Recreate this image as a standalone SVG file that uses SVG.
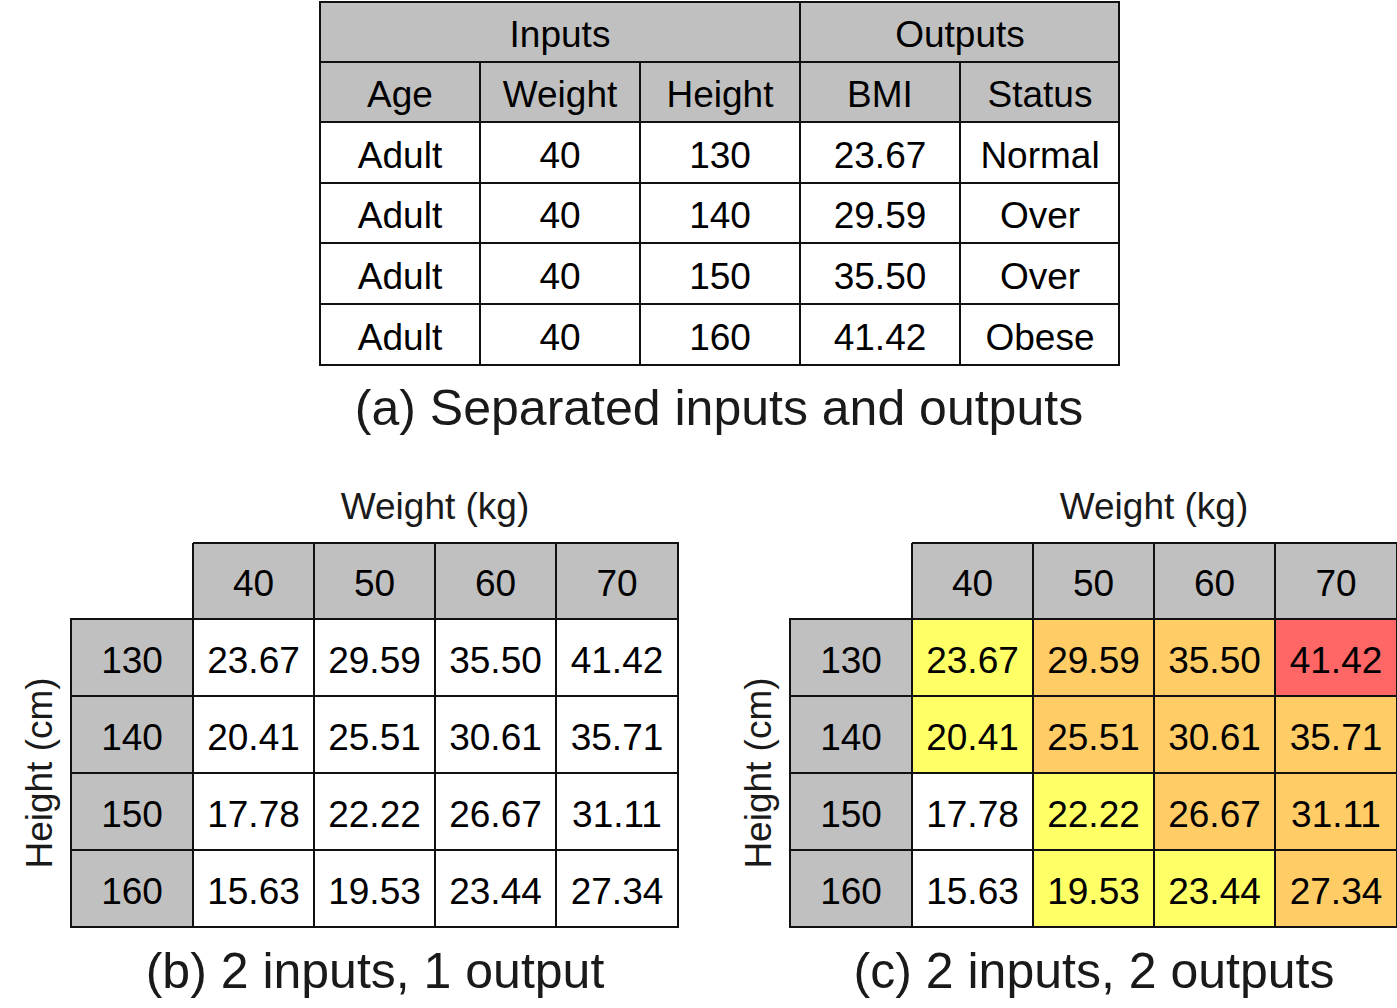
<svg xmlns="http://www.w3.org/2000/svg" width="1397" height="1008" viewBox="0 0 1397 1008">
<style>
text{font-family:"Liberation Sans",Arial,sans-serif;fill:#000;text-anchor:middle}
.t{font-size:37px}
.l{font-size:37px;fill:#1a1a1a}
.cap{font-size:50px;fill:#1a1a1a}
.g{fill:#c0c0c0}
.w{fill:#fff}
.y{fill:#ffff66}
.o{fill:#ffcc66}
.r{fill:#ff6666}
.ln{stroke:#111;stroke-width:2;fill:none}
</style>
<rect width="1397" height="1008" fill="#fff"/>

<g id="tableA">
  <rect class="g" x="320" y="2" width="799" height="120"/>
  <rect class="w" x="320" y="122" width="799" height="243"/>
  <g class="ln">
    <rect x="320" y="2" width="799" height="363"/>
    <path d="M320 62H1119M320 122H1119M320 183H1119M320 243H1119M320 304H1119M800 2V365M480 62V365M640 62V365M960 62V365"/>
  </g>
  <g class="l">
    <text x="560" y="47">Inputs</text>
    <text x="960" y="47">Outputs</text>
    <text x="400" y="107">Age</text>
    <text x="560" y="107">Weight</text>
    <text x="720" y="107">Height</text>
    <text x="880" y="107">BMI</text>
    <text x="1040" y="107">Status</text>
    <text x="400" y="168">Adult</text><text x="560" y="168">40</text><text x="720" y="168">130</text><text x="880" y="168">23.67</text><text x="1040" y="168">Normal</text>
    <text x="400" y="228">Adult</text><text x="560" y="228">40</text><text x="720" y="228">140</text><text x="880" y="228">29.59</text><text x="1040" y="228">Over</text>
    <text x="400" y="289">Adult</text><text x="560" y="289">40</text><text x="720" y="289">150</text><text x="880" y="289">35.50</text><text x="1040" y="289">Over</text>
    <text x="400" y="350">Adult</text><text x="560" y="350">40</text><text x="720" y="350">160</text><text x="880" y="350">41.42</text><text x="1040" y="350">Obese</text>
  </g>
  <text class="cap" x="719" y="425">(a) Separated inputs and outputs</text>
</g>

<g id="tableB">
  <rect class="g" x="193" y="543" width="485" height="76"/>
  <rect class="g" x="71" y="619" width="122" height="308"/>
  <rect class="w" x="193" y="619" width="485" height="308"/>
  <g class="ln">
    <path d="M193 543H678V927H71V619H193V543M193 619V927M314 543V927M435 543V927M556 543V927M71 619H678M71 696H678M71 773H678M71 850H678"/>
  </g>
  <text class="l" x="435" y="519">Weight (kg)</text>
  <text class="l" x="52" y="773" transform="rotate(-90 52 773)">Height (cm)</text>
  <g class="l">
    <text x="253.5" y="596">40</text><text x="374.5" y="596">50</text><text x="495.5" y="596">60</text><text x="617" y="596">70</text>
    <text x="132" y="673">130</text><text x="132" y="750">140</text><text x="132" y="827">150</text><text x="132" y="904">160</text>
  </g>
  <g class="t">
    <text x="253.5" y="673">23.67</text><text x="374.5" y="673">29.59</text><text x="495.5" y="673">35.50</text><text x="617" y="673">41.42</text>
    <text x="253.5" y="750">20.41</text><text x="374.5" y="750">25.51</text><text x="495.5" y="750">30.61</text><text x="617" y="750">35.71</text>
    <text x="253.5" y="827">17.78</text><text x="374.5" y="827">22.22</text><text x="495.5" y="827">26.67</text><text x="617" y="827">31.11</text>
    <text x="253.5" y="904">15.63</text><text x="374.5" y="904">19.53</text><text x="495.5" y="904">23.44</text><text x="617" y="904">27.34</text>
  </g>
  <text class="cap" x="375" y="988">(b) 2 inputs, 1 output</text>
</g>

<g id="tableC">
  <rect class="g" x="912" y="543" width="485" height="76"/>
  <rect class="g" x="790" y="619" width="122" height="308"/>
  <rect class="y" x="912" y="619" width="121" height="154"/>
  <rect class="o" x="1033" y="619" width="242" height="154"/>
  <rect class="r" x="1275" y="619" width="122" height="77"/>
  <rect class="o" x="1275" y="696" width="122" height="231"/>
  <rect class="w" x="912" y="773" width="121" height="154"/>
  <rect class="y" x="1033" y="773" width="121" height="154"/>
  <rect class="o" x="1154" y="773" width="121" height="77"/>
  <rect class="y" x="1154" y="850" width="121" height="77"/>
  <g class="ln">
    <path d="M912 543H1397V927H790V619H912V543M912 619V927M1033 543V927M1154 543V927M1275 543V927M790 619H1397M790 696H1397M790 773H1397M790 850H1397"/>
  </g>
  <text class="l" x="1154" y="519">Weight (kg)</text>
  <text class="l" x="771" y="773" transform="rotate(-90 771 773)">Height (cm)</text>
  <g class="l">
    <text x="972.5" y="596">40</text><text x="1093.5" y="596">50</text><text x="1214.5" y="596">60</text><text x="1336" y="596">70</text>
    <text x="851" y="673">130</text><text x="851" y="750">140</text><text x="851" y="827">150</text><text x="851" y="904">160</text>
  </g>
  <g class="t">
    <text x="972.5" y="673">23.67</text><text x="1093.5" y="673">29.59</text><text x="1214.5" y="673">35.50</text><text x="1336" y="673">41.42</text>
    <text x="972.5" y="750">20.41</text><text x="1093.5" y="750">25.51</text><text x="1214.5" y="750">30.61</text><text x="1336" y="750">35.71</text>
    <text x="972.5" y="827">17.78</text><text x="1093.5" y="827">22.22</text><text x="1214.5" y="827">26.67</text><text x="1336" y="827">31.11</text>
    <text x="972.5" y="904">15.63</text><text x="1093.5" y="904">19.53</text><text x="1214.5" y="904">23.44</text><text x="1336" y="904">27.34</text>
  </g>
  <text class="cap" x="1094" y="988">(c) 2 inputs, 2 outputs</text>
</g>

<g id="connectors"></g>
</svg>
